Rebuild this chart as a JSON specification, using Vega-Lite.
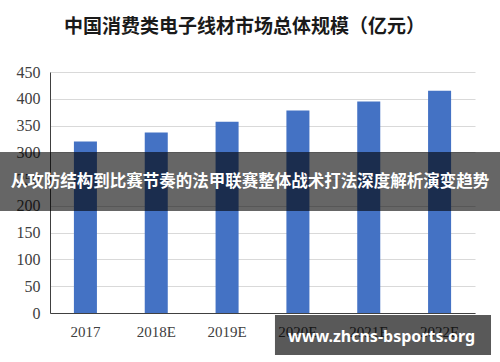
{
  "$schema": "https://vega.github.io/schema/vega-lite/v6.json",
  "width": 425,
  "height": 241,
  "autosize": "none",
  "padding": {"left": 50, "top": 72, "right": 25, "bottom": 49},
  "background": "white",
  "title": {
    "text": "中国消费类电子线材市场总体规模（亿元）",
    "font": "Noto Sans CJK SC",
    "fontSize": 19,
    "fontWeight": "bold",
    "color": "#1a1a1a",
    "offset": 27,
    "dx": -18,
    "anchor": "middle"
  },
  "config": {
    "view": {"stroke": null}
  },
  "resolve": {"scale": {"x": "independent", "y": "independent"}, "axis": {"x": "independent", "y": "independent"}},
  "layer": [
    {
      "data": {"values": [
        {"year": "2017", "value": 320},
        {"year": "2018E", "value": 337},
        {"year": "2019E", "value": 357},
        {"year": "2020E", "value": 378},
        {"year": "2021E", "value": 395},
        {"year": "2022E", "value": 415}
      ]},
      "mark": {"type": "bar", "color": "#4472C4", "width": {"band": 0.325}},
      "encoding": {
        "x": {
          "field": "year", "type": "nominal", "sort": null,
          "scale": {"paddingInner": 0, "paddingOuter": 0},
          "axis": {"title": null, "labelAngle": 0, "labelFont": "Liberation Serif", "labelFontSize": 15, "labelColor": "#404040", "ticks": false, "domainColor": "#404040", "labelPadding": 11, "grid": false, "labelOverlap": false}
        },
        "y": {
          "field": "value", "type": "quantitative",
          "scale": {"domain": [0, 450], "nice": false},
          "axis": {"title": null, "values": [0, 50, 100, 150, 200, 250, 300, 350, 400, 450], "labelOverlap": false, "labelFont": "Liberation Serif", "labelFontSize": 16, "labelColor": "#404040", "ticks": false, "domainColor": "#404040", "gridColor": "#d9d9d9", "labelPadding": 10}
        }
      }
    },
    {
      "layer": [
        {
          "data": {"values": [{"label": "从攻防结构到比赛节奏的法甲联赛整体战术打法深度解析演变趋势"}]},
          "mark": {"type": "rect", "color": "black", "opacity": 0.6},
          "encoding": {
            "x": {"datum": "2017", "bandPosition": -0.706, "axis": null, "scale": {"domain": ["2017", "2018E", "2019E", "2020E", "2021E", "2022E"], "paddingInner": 0, "paddingOuter": 0}},
            "x2": {"datum": "2022E", "bandPosition": 1.353},
            "y": {"datum": 300.5, "type": "quantitative", "axis": null, "scale": {"domain": [0, 450], "nice": false}},
            "y2": {"datum": 190.5}
          }
        },
        {
          "data": {"values": [{"label": "从攻防结构到比赛节奏的法甲联赛整体战术打法深度解析演变趋势"}]},
          "mark": {"type": "text", "color": "white", "font": "Noto Sans CJK SC", "fontSize": 16.5, "fontWeight": "bold", "align": "center", "baseline": "middle"},
          "encoding": {
            "x": {"datum": "2019E", "bandPosition": 0.824, "axis": null, "scale": {"domain": ["2017", "2018E", "2019E", "2020E", "2021E", "2022E"], "paddingInner": 0, "paddingOuter": 0}},
            "y": {"datum": 244.5, "type": "quantitative", "axis": null, "scale": {"domain": [0, 450], "nice": false}},
            "text": {"field": "label"}
          }
        },
        {
          "data": {"values": [{"label": "www.zhcns-bsports.org"}]},
          "mark": {"type": "rect", "color": "black", "opacity": 0.65},
          "encoding": {
            "x": {"datum": "2020E", "bandPosition": 0.176, "axis": null, "scale": {"domain": ["2017", "2018E", "2019E", "2020E", "2021E", "2022E"], "paddingInner": 0, "paddingOuter": 0}},
            "x2": {"datum": "2022E", "bandPosition": 1.226},
            "y": {"datum": -3.7, "type": "quantitative", "axis": null, "scale": {"domain": [0, 450], "nice": false}},
            "y2": {"datum": -78.4}
          }
        },
        {
          "data": {"values": [{"label": "www.zhcns-bsports.org"}]},
          "mark": {"type": "text", "color": "white", "font": "Noto Sans", "fontSize": 16, "fontWeight": "bold", "align": "center", "baseline": "middle"},
          "encoding": {
            "x": {"datum": "2021E", "bandPosition": 0.68, "axis": null, "scale": {"domain": ["2017", "2018E", "2019E", "2020E", "2021E", "2022E"], "paddingInner": 0, "paddingOuter": 0}},
            "y": {"datum": -44.8, "type": "quantitative", "axis": null, "scale": {"domain": [0, 450], "nice": false}},
            "text": {"field": "label"}
          }
        }
      ]
    }
  ]
}
